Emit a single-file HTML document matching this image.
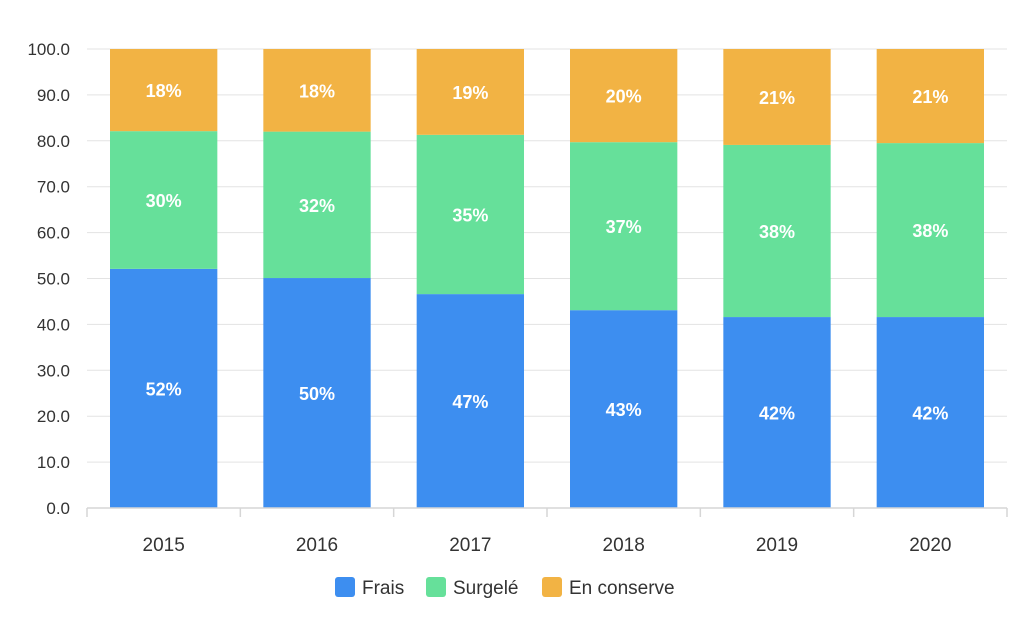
<!DOCTYPE html>
<html><head><meta charset="utf-8"><style>
body{margin:0;background:#fff;font-family:"Liberation Sans",Arial,sans-serif}
</style></head><body>
<svg id="chart" width="1024" height="628" xmlns="http://www.w3.org/2000/svg" font-family="Liberation Sans, Arial, sans-serif">
<g id="grid"></g>
<g id="bars"></g>
<g id="axes"></g>
<g id="legend">
<g><rect x="335" y="577" width="20" height="20" rx="3" fill="#3d8ef0"/><text x="362" y="594" font-size="19" fill="#333">Frais</text></g>
<g><rect x="426" y="577" width="20" height="20" rx="3" fill="#66e09a"/><text x="453" y="594" font-size="19" fill="#333">Surgelé</text></g>
<g><rect x="542" y="577" width="20" height="20" rx="3" fill="#f2b344"/><text x="569" y="594" font-size="19" fill="#333">En conserve</text></g>
</g>
</svg>
<script>
const categories=["2015","2016","2017","2018","2019","2020"];
const frais=[52.1,50.1,46.6,43.1,41.6,41.6];
const surgele=[30.0,31.9,34.7,36.6,37.5,37.9];
const conserve=[17.9,18.0,18.7,20.3,20.9,20.5];
const yTicks=[0,10,20,30,40,50,60,70,80,90,100];
const NS="http://www.w3.org/2000/svg";
const L=87,R=1007,T=49,B=508;
const y=v=>B-(v/100)*(B-T);
const band=(R-L)/categories.length;
const xc=i=>L+band*(i+0.5);
function mk(tag,attrs,parent){const e=document.createElementNS(NS,tag);for(const k in attrs)e.setAttribute(k,attrs[k]);parent.appendChild(e);return e;}
const grid=document.getElementById('grid'),bars=document.getElementById('bars'),axes=document.getElementById('axes');
yTicks.forEach(t=>{
 if(t>0){const l=mk('line',{x1:L,x2:R,y1:y(t),y2:y(t),stroke:'#e3e3e3','stroke-width':1},grid);
 
 }
 const tx=mk('text',{x:70,y:y(t)+6,'text-anchor':'end','font-size':17,fill:'#333'},axes);
 tx.textContent=t.toFixed(1);
 
 
});
const ax=mk('line',{x1:L,x2:R,y1:B,y2:B,stroke:'#d6d6d6','stroke-width':1.5},axes);


for(let i=0;i<=categories.length;i++){
 const tk=mk('line',{x1:L+band*i,x2:L+band*i,y1:B,y2:B+9,stroke:'#d6d6d6','stroke-width':1.5},axes);
 
 
}
const series=[[frais,'#3d8ef0','frais'],[surgele,'#66e09a','surgele'],[conserve,'#f2b344','conserve']];
const bw=band*0.7;
categories.forEach((c,i)=>{
 let base=0;
 series.forEach(([arr,col,nm])=>{
  const v=arr[i],top=base+v;
  const r=mk('rect',{x:xc(i)-bw/2,y:y(top),width:bw,height:y(base)-y(top),fill:col},bars);
  
  
  const lb=mk('text',{x:xc(i),y:(y(top)+y(base))/2+7,'text-anchor':'middle','font-size':18,'font-weight':'bold',fill:'#fff'},bars);
  lb.textContent=Math.round(v)+'%';
  
  
  base=top;
 });
 const xl=mk('text',{x:xc(i),y:551,'text-anchor':'middle','font-size':19,fill:'#333'},axes);
 xl.textContent=c;
 
 
});
</script>
</body></html>
